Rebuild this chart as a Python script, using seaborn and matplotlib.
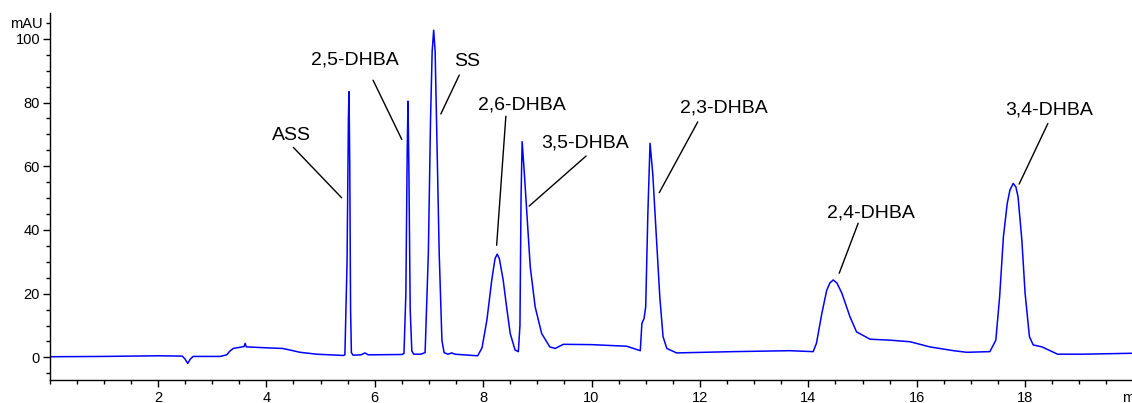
import numpy as np
import pandas as pd
import matplotlib
matplotlib.use("Agg")
import matplotlib.pyplot as plt
from matplotlib.ticker import MultipleLocator, FixedLocator, FixedFormatter
import seaborn as sns

# ---- chromatogram trace (time in min, signal in mAU) ----
times = [0.0, 1.0, 2.0, 2.45, 2.50, 2.55, 2.60, 2.65, 3.15, 3.27, 3.33, 3.39, 3.55, 3.59,
         3.61, 3.63, 4.0, 4.30, 4.44, 4.62, 4.93, 5.42, 5.45, 5.49, 5.515, 5.526, 5.54,
         5.555, 5.57, 5.60, 5.75, 5.82, 5.88, 6.50, 6.54, 6.575, 6.60, 6.614, 6.63, 6.655,
         6.685, 6.72, 6.85, 6.93, 6.99, 7.03, 7.06, 7.088, 7.115, 7.14, 7.19, 7.24, 7.28,
         7.35, 7.42, 7.48, 7.90, 7.98, 8.07, 8.16, 8.22, 8.26, 8.30, 8.37, 8.44, 8.50,
         8.59, 8.65, 8.68, 8.70, 8.72, 8.76, 8.80, 8.87, 8.96, 9.08, 9.23, 9.33, 9.48,
         10.0, 10.65, 10.90, 10.93, 10.97, 11.00, 11.04, 11.08, 11.13, 11.19, 11.26,
         11.32, 11.39, 11.57, 12.6, 13.66, 14.09, 14.15, 14.25, 14.34, 14.40, 14.46,
         14.53, 14.62, 14.77, 14.89, 15.14, 15.51, 15.88, 16.24, 16.68, 16.92, 17.35,
         17.46, 17.53, 17.60, 17.67, 17.72, 17.78, 17.83, 17.87, 17.94, 18.00, 18.08,
         18.15, 18.31, 18.60, 19.07, 20.0]
signal = [0.2, 0.3, 0.5, 0.4, -0.5, -1.9, -0.5, 0.3, 0.3, 0.8, 2.0, 2.8, 3.3, 3.4,
          4.4, 3.3, 3.0, 2.8, 2.3, 1.6, 1.0, 0.6, 0.8, 30, 75, 83.4, 60,
          15, 1.5, 0.7, 0.8, 1.4, 0.8, 0.9, 1.2, 20, 65, 80.4, 60, 15,
          2.0, 1.0, 1.0, 1.5, 32.7, 74.5, 96.0, 102.7, 96.0, 74.5, 32.7, 5.4, 1.5,
          1.0, 1.4, 1.0, 0.5, 3.0, 11.7, 24.3, 31.0, 32.4, 31.0, 24.3, 15.0, 7.5,
          2.3, 1.8, 10, 50, 67.7, 58, 47.3, 28.4, 15.9, 7.5, 3.3, 2.8, 4.1,
          4.0, 3.5, 2.1, 10.7, 12.2, 15.9, 45.3, 67.2, 57.7, 40, 19,
          6.5, 2.8, 1.4, 1.8, 2.1, 1.8, 4.4, 13.8, 21.1, 23.4, 24.3,
          23.3, 20.1, 12.7, 8.0, 5.7, 5.4, 4.9, 3.3, 2.1, 1.6, 1.8,
          5.4, 19, 37.9, 48.3, 52.5, 54.6, 53.5, 50.4, 36.8, 20.1, 6.5,
          3.9, 3.3, 1.0, 1.0, 1.3]

# ---- peak labels ----
peak_names = ["ASS", "2,5-DHBA", "SS", "2,6-DHBA", "3,5-DHBA", "2,3-DHBA", "2,4-DHBA", "3,4-DHBA"]

# label placement (text centre, leader line start/end) in data units
label_xy = [(4.46, 69.6), (5.64, 93.3), (7.70, 92.8), (8.71, 79.2),
            (9.89, 67.2), (12.44, 78.2), (15.15, 45.2), (18.44, 77.6)]
leader_from = [(4.50, 65.9), (5.97, 87.0), (7.56, 88.6), (8.42, 75.7),
               (9.90, 63.2), (11.96, 73.9), (14.92, 42.1), (18.42, 73.4)]
leader_to = [(5.39, 50.1), (6.50, 68.4), (7.22, 76.4), (8.25, 35.2),
             (8.85, 47.5), (11.25, 51.7), (14.57, 26.4), (17.89, 54.4)]

x_major = [2, 4, 6, 8, 10, 12, 14, 16, 18, 20]
x_major_labels = ["2", "4", "6", "8", "10", "12", "14", "16", "18", "min"]
y_major = [0, 20, 40, 60, 80, 100]
y_unit = "mAU"

sns.set_style("ticks")
plt.rcParams["font.family"] = ["Liberation Sans", "DejaVu Sans"]

W, H = 1132, 403
fig = plt.figure(figsize=(W / 100, H / 100), dpi=100)
x0_px, xr = 49.5, (0, 20.6)
px_per_min = 54.2
ax = fig.add_axes([x0_px / W, 23 / H, (xr[1] - xr[0]) * px_per_min / W, 366.7 / H])

df = pd.DataFrame({"t": times, "mAU": signal})
sns.lineplot(data=df, x="t", y="mAU", ax=ax, color="#0000ff", lw=1.1,
             estimator=None, sort=False)

ax.set_xlim(*xr)
ax.set_ylim(-7.1, 108)
ax.set_xlabel("")
ax.set_ylabel("")

for s in ["top", "right"]:
    ax.spines[s].set_visible(False)
for s in ["left", "bottom"]:
    ax.spines[s].set_linewidth(1.0)
    ax.spines[s].set_color("black")

ax.xaxis.set_major_locator(FixedLocator(x_major))
ax.xaxis.set_major_formatter(FixedFormatter(x_major_labels))
ax.xaxis.set_minor_locator(MultipleLocator(0.5))
ax.yaxis.set_major_locator(FixedLocator(y_major))
minor_y = [v for v in range(-5, 110, 5) if v not in y_major]
ax.yaxis.set_minor_locator(FixedLocator(minor_y))
ax.yaxis.set_minor_formatter(FixedFormatter([y_unit if v == 105 else "" for v in minor_y]))

ax.tick_params(axis="both", which="major", length=4.8, width=1.0, color="black",
               labelsize=10.5, labelcolor="black")
ax.tick_params(axis="both", which="minor", length=3.0, width=1.0, color="black",
               labelsize=10.5, labelcolor="black")
ax.tick_params(axis="x", which="both", pad=3.2)
ax.tick_params(axis="y", which="both", pad=2)

for name, (tx, ty), (ax1, ay1), (ax2, ay2) in zip(peak_names, label_xy, leader_from, leader_to):
    ax.text(tx, ty, name, ha="center", va="center", fontsize=14, color="black")
    ax.plot([ax1, ax2], [ay1, ay2], color="black", lw=1.0)

fig.savefig("out.png", dpi=100)
